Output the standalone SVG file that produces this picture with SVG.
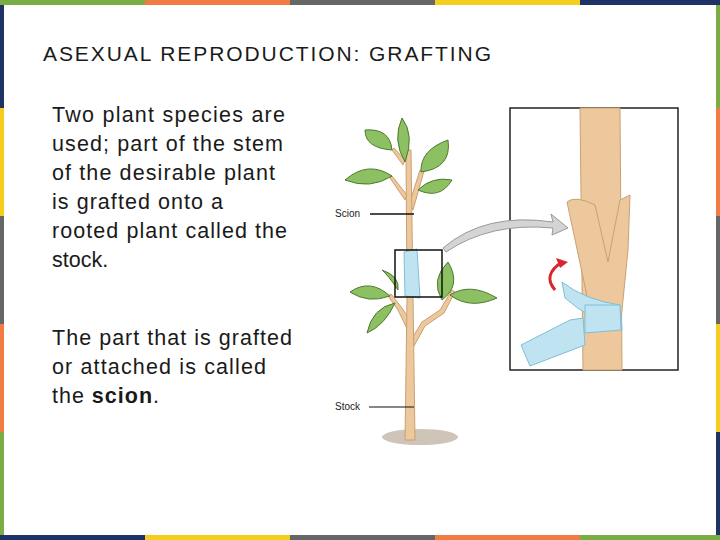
<svg xmlns="http://www.w3.org/2000/svg" width="720" height="540" viewBox="0 0 720 540">
<style>
.t{font-family:"Liberation Sans",Arial,sans-serif;fill:#1a1a1a}
.lf{fill:#8cc063;stroke:#4d7a2c;stroke-width:1}
.br{fill:#edc89c;stroke:#c9a172;stroke-width:1}
.tape{fill:#bfe3f0;stroke:#7fbfd8;stroke-width:1}
.lab{font-family:"Liberation Sans",Arial,sans-serif;font-size:10px;fill:#222}
</style>
<rect width="720" height="540" fill="#fff"/>
<g id="border">
<rect x="0" y="0" width="145" height="5" fill="#7aae45"/><rect x="145" y="0" width="145" height="5" fill="#f07c43"/><rect x="290" y="0" width="145" height="5" fill="#666"/><rect x="435" y="0" width="145" height="5" fill="#f5cd1c"/><rect x="580" y="0" width="140" height="5" fill="#1f3266"/>
<rect x="0" y="535" width="145" height="5" fill="#1f3266"/><rect x="145" y="535" width="145" height="5" fill="#f5cd1c"/><rect x="290" y="535" width="145" height="5" fill="#666"/><rect x="435" y="535" width="145" height="5" fill="#f07c43"/><rect x="580" y="535" width="140" height="5" fill="#7aae45"/>
<rect x="0" y="5" width="4" height="103" fill="#1f3266"/><rect x="0" y="108" width="4" height="108" fill="#f5cd1c"/><rect x="0" y="216" width="4" height="108" fill="#666"/><rect x="0" y="324" width="4" height="108" fill="#f07c43"/><rect x="0" y="432" width="4" height="103" fill="#7aae45"/>
<rect x="716" y="5" width="4" height="103" fill="#7aae45"/><rect x="716" y="108" width="4" height="108" fill="#f07c43"/><rect x="716" y="216" width="4" height="108" fill="#666"/><rect x="716" y="324" width="4" height="108" fill="#f5cd1c"/><rect x="716" y="432" width="4" height="103" fill="#1f3266"/>
</g>
<text class="t" x="43" y="61" font-size="21" fill="#222" textLength="448" lengthAdjust="spacing">ASEXUAL REPRODUCTION: GRAFTING</text>
<g class="t" font-size="21.5">
<text x="52" y="122" textLength="233" lengthAdjust="spacing">Two plant species are</text>
<text x="52" y="151" textLength="231" lengthAdjust="spacing">used; part of the stem</text>
<text x="52" y="180" textLength="223" lengthAdjust="spacing">of the desirable plant</text>
<text x="52" y="209" textLength="171" lengthAdjust="spacing">is grafted onto a</text>
<text x="52" y="238" textLength="235" lengthAdjust="spacing">rooted plant called the</text>
<text x="52" y="267">stock.</text>
<text x="52" y="345" textLength="240" lengthAdjust="spacing">The part that is grafted</text>
<text x="52" y="374" textLength="214" lengthAdjust="spacing">or attached is called</text>
<text x="52" y="403" textLength="107" lengthAdjust="spacing">the <tspan font-weight="bold">scion</tspan>.</text>
</g>
<g id="tree">
<ellipse cx="420" cy="437" rx="38" ry="8" fill="#a08a72" opacity="0.5"/>
<path class="br" d="M403,165 L392,150 L394,148 L405,160 Z"/>
<path class="br" d="M405,200 L390,178 L392,176 L407,195 Z"/>
<path class="br" d="M409,205 L420,170 L424,171 L413,210 Z"/>
<path class="br" d="M410,335 L398,310 L388,296 L391,294 L402,308 L413,325 Z"/>
<path class="br" d="M411,340 L422,322 L440,310 L452,290 L455,292 L444,313 L425,326 L414,346 Z"/>
<path class="br" d="M406,150 L411,150 L415,440 L405,440 L407,300 Z"/>
<path class="lf" d="M405,162 Q392,140 402,118 Q415,135 405,162 Z"/>
<path class="lf" d="M392,150 Q365,148 365,130 Q390,128 392,150 Z"/>
<path class="lf" d="M392,176 Q370,190 345,180 Q368,160 392,176 Z"/>
<path class="lf" d="M421,172 Q420,150 448,140 Q452,168 421,172 Z"/>
<path class="lf" d="M418,190 Q432,176 452,180 Q440,200 418,190 Z"/>
<path class="lf" d="M390,296 Q368,304 350,292 Q370,278 390,296 Z"/>
<path class="lf" d="M395,303 Q385,325 367,333 Q372,308 395,303 Z"/>
<path class="lf" d="M442,300 Q430,280 448,262 Q462,285 442,300 Z"/>
<path class="lf" d="M450,295 Q470,282 497,298 Q470,310 450,295 Z"/>
<path class="lf" d="M398,290 Q388,275 382,270 Q400,276 398,290 Z"/>
<path class="tape" d="M404,252 L417,249 L420,298 L405,296 Z"/>
<rect x="395" y="250" width="47" height="47" fill="none" stroke="#111" stroke-width="1.5"/>
</g>
<g id="labels">
<text class="lab" x="335" y="217">Scion</text>
<line x1="370" y1="214" x2="414" y2="214" stroke="#111" stroke-width="1.5"/>
<text class="lab" x="335" y="410">Stock</text>
<line x1="369" y1="407" x2="414" y2="407" stroke="#111" stroke-width="1.2"/>
</g>
<g id="inset">
<rect x="510" y="108" width="168" height="262" fill="#fff" stroke="#222" stroke-width="1.5"/>
<path class="br" d="M580,108 L620,108 L622,370 L583,370 Z"/>
<path class="br" d="M567,202 Q575,195 595,205 L608,262 L620,200 L630,195 L628,250 L621,320 L590,310 Z"/>
<path class="tape" d="M562,282 Q585,300 620,305 L622,330 Q590,320 565,298 Z"/>
<path class="tape" d="M521,345 L570,320 L583,318 L585,345 L530,366 Z"/>
<path class="tape" d="M585,305 L620,305 L621,330 L585,333 Z"/>
<path d="M555,290 Q542,275 562,262" fill="none" stroke="#d9262e" stroke-width="3"/>
<path d="M568,262 L556,258 L560,268 Z" fill="#d9262e"/>
</g>
<g id="connectors">
<path d="M443,248 Q485,212 553,222 L551,214 L568,228 L552,235 L553,228 Q490,222 446,252 Z" fill="#d4d4d4" stroke="#999" stroke-width="1"/>
</g>
</svg>
